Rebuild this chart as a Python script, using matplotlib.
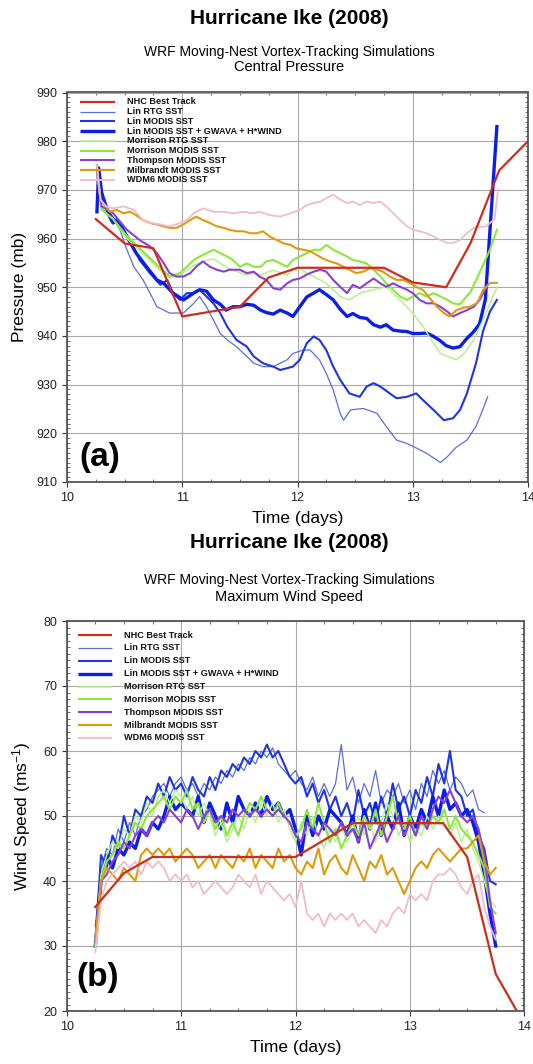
import numpy as np
import matplotlib
matplotlib.use("Agg")
import matplotlib.pyplot as plt
from matplotlib.ticker import MultipleLocator

plt.rcParams['font.family'] = ['Liberation Sans', 'DejaVu Sans']
plt.rcParams['mathtext.fontset'] = 'custom'
plt.rcParams['mathtext.rm'] = 'Liberation Sans'
plt.rcParams['mathtext.it'] = 'Liberation Sans'

# ---------------- series names / styles ----------------
labels = ["NHC Best Track", "Lin RTG SST", "Lin MODIS SST",
          "Lin MODIS SST + GWAVA + H*WIND", "Morrison RTG SST",
          "Morrison MODIS SST", "Thompson MODIS SST",
          "Milbrandt MODIS SST", "WDM6 MODIS SST"]
colors = ["#d02c1c", "#5a6fd8", "#1f35e0", "#0a1ee8", "#b8f08c",
          "#8ce83a", "#8a40d8", "#e09a10", "#f0bcc8"]
widths = [1.6, 0.9, 1.5, 2.4, 1.1, 1.5, 1.5, 1.5, 1.3]

# ---------------- panel (a): central pressure ----------------
nhc_t_a = [10.25, 10.5, 10.75, 11.0, 11.25, 11.5, 11.75, 12.0, 12.25, 12.5,
           12.75, 13.0, 13.29, 13.5, 13.75, 14.0]
nhc_p = [964, 959, 958, 944, 945, 946, 952, 954, 954, 954, 954, 951, 950,
         959, 974, 980]

linrtg_t = [10.26, 10.30, 10.37, 10.46, 10.52, 10.58, 10.66, 10.72, 10.78, 10.84,
            10.89, 10.95, 11.01, 11.10, 11.15, 11.21, 11.27, 11.33, 11.39, 11.47,
            11.56, 11.62, 11.70, 11.79, 11.91, 11.96, 12.05, 12.11, 12.19, 12.25,
            12.31, 12.37, 12.40, 12.46, 12.57, 12.69, 12.77, 12.86, 12.95, 13.03,
            13.12, 13.24, 13.30, 13.38, 13.47, 13.55, 13.61, 13.65]
linrtg_p = [974, 966, 965.2, 961.8, 957.7, 954.2, 951.5, 948.8, 946.0, 945.3,
            944.7, 944.7, 944.7, 946.7, 948.1, 946.0, 943.3, 940.5, 939.2, 937.8,
            935.8, 934.4, 933.7, 933.7, 935.1, 936.4, 937.1, 937.1, 935.1, 932.3,
            928.9, 924.1, 922.7, 924.8, 925.1, 924.1, 921.4, 918.6, 917.9, 917.0,
            915.9, 914.0, 915.2, 917.2, 918.6, 921.5, 925.0, 927.5]

linmod_t = [10.26, 10.30, 10.37, 10.46, 10.55, 10.63, 10.72, 10.81, 10.87, 10.92,
            10.98, 11.04, 11.10, 11.15, 11.21, 11.27, 11.33, 11.39, 11.47, 11.56,
            11.62, 11.70, 11.79, 11.85, 11.96, 12.02, 12.08, 12.14, 12.19, 12.25,
            12.31, 12.37, 12.45, 12.54, 12.60, 12.66, 12.72, 12.80, 12.86, 12.95,
            13.03, 13.09, 13.18, 13.27, 13.35, 13.41, 13.47, 13.55, 13.61, 13.67,
            13.73]
linmod_p = [975, 968.8, 965.2, 962.5, 959.7, 955.6, 952.9, 950.5, 951.5, 948.8,
            947.4, 948.8, 948.8, 949.5, 948.1, 946.7, 944.7, 941.9, 939.2, 937.8,
            935.8, 934.4, 933.7, 933.0, 933.7, 935.1, 938.5, 939.9, 939.2, 937.1,
            933.7, 931.0, 928.2, 927.5, 929.6, 930.3, 929.6, 928.2, 927.2, 927.5,
            928.2, 926.8, 924.8, 922.7, 923.1, 924.8, 928.2, 934.5, 941.0, 945.0,
            947.4]

gwava_t = [10.26, 10.275, 10.30, 10.34, 10.37, 10.40, 10.43, 10.46, 10.52, 10.60,
           10.69, 10.78, 10.84, 10.92, 11.01, 11.10, 11.15, 11.21, 11.27, 11.33,
           11.38, 11.44, 11.50, 11.56, 11.62, 11.68, 11.73, 11.79, 11.85, 11.91,
           11.96, 12.02, 12.08, 12.14, 12.19, 12.25, 12.31, 12.37, 12.43, 12.48,
           12.54, 12.60, 12.66, 12.72, 12.77, 12.83, 12.89, 12.95, 13.00, 13.06,
           13.12, 13.18, 13.24, 13.29, 13.35, 13.41, 13.47, 13.53, 13.58, 13.63,
           13.73]
gwava_p = [965.5, 974.5, 969.5, 966.5, 964.5, 963.2, 963.8, 963.0, 960.4, 957.0,
           954.2, 951.5, 950.8, 948.8, 947.4, 948.8, 949.5, 949.2, 947.4, 946.5,
           945.3, 946.0, 946.0, 946.5, 946.3, 945.3, 944.8, 944.5, 945.3, 944.7,
           944.0, 946.0, 948.0, 948.8, 949.5, 948.5, 947.4, 945.5, 944.0, 944.6,
           943.8, 943.6, 942.3, 941.8, 942.3, 941.2, 941.0, 940.9, 940.5, 940.5,
           940.6, 939.9, 939.0, 938.0, 937.5, 937.8, 939.5, 940.9, 942.5, 947.5,
           983.0]

morrtg_t = [10.26, 10.30, 10.40, 10.52, 10.63, 10.72, 10.78, 10.89, 10.98, 11.04,
            11.10, 11.15, 11.21, 11.27, 11.33, 11.39, 11.44, 11.50, 11.56, 11.62,
            11.68, 11.73, 11.79, 11.85, 11.91, 11.96, 12.02, 12.08, 12.14, 12.25,
            12.37, 12.45, 12.54, 12.66, 12.77, 12.89, 13.00, 13.09, 13.18, 13.24,
            13.30, 13.38, 13.45, 13.53, 13.61, 13.73]
morrtg_p = [974, 966, 964, 960, 957.5, 955.5, 954, 952, 952.5, 953.5,
            954.5, 955.0, 955.5, 955.8, 955.0, 954.0, 953.5, 953.0, 952.5, 953.0,
            952.5, 953.0, 953.5, 953.0, 952.5, 953.6, 953.8, 952.9, 952.2, 950.8,
            948.1, 947.4, 948.8, 949.5, 950.1, 947.4, 944.7, 941.9, 938.5, 936.4,
            935.8, 935.1, 936.5, 939.2, 943.3, 950.0]

mormod_t = [10.26, 10.30, 10.40, 10.52, 10.63, 10.72, 10.78, 10.89, 10.98, 11.04,
            11.10, 11.15, 11.21, 11.27, 11.33, 11.39, 11.44, 11.50, 11.56, 11.62,
            11.68, 11.73, 11.79, 11.85, 11.91, 11.96, 12.02, 12.08, 12.14, 12.20,
            12.25, 12.31, 12.37, 12.43, 12.48, 12.54, 12.60, 12.66, 12.72, 12.77,
            12.83, 12.89, 12.95, 13.00, 13.06, 13.12, 13.18, 13.24, 13.30, 13.35,
            13.41, 13.50, 13.58, 13.67, 13.73]
mormod_p = [974, 966, 964, 960.5, 958, 956, 954.6, 952.2, 952.9, 954.2,
            955.6, 956.3, 957.0, 957.7, 957.0, 956.3, 955.6, 954.2, 954.9, 954.2,
            954.2, 955.3, 955.6, 954.9, 954.2, 955.6, 956.3, 957.0, 957.7, 957.7,
            958.7, 957.7, 957.0, 956.3, 955.6, 955.3, 954.9, 953.6, 952.2, 950.8,
            949.5, 948.1, 947.4, 948.1, 948.8, 948.1, 948.8, 948.1, 947.4, 946.7,
            946.5, 949.0, 953.0, 957.7, 961.8]

thom_t = [10.26, 10.30, 10.40, 10.52, 10.63, 10.72, 10.78, 10.84, 10.89, 10.95,
          11.01, 11.07, 11.12, 11.18, 11.24, 11.30, 11.36, 11.41, 11.50, 11.56,
          11.62, 11.67, 11.73, 11.79, 11.85, 11.91, 11.96, 12.02, 12.08, 12.14,
          12.20, 12.25, 12.31, 12.37, 12.43, 12.48, 12.54, 12.60, 12.66, 12.72,
          12.77, 12.83, 12.89, 12.95, 13.00, 13.06, 13.12, 13.18, 13.24, 13.30,
          13.35, 13.41, 13.47, 13.53, 13.58, 13.64]
thom_p = [974, 966.6, 965.2, 961.8, 959.7, 958.4, 957.0, 954.9, 952.9, 952.2,
          952.2, 952.9, 954.2, 955.3, 954.2, 953.6, 953.2, 953.6, 953.6, 952.9,
          953.2, 952.2, 951.5, 949.8, 949.5, 950.8, 951.5, 951.8, 952.6, 953.2,
          953.6, 953.2, 951.5, 950.1, 948.8, 950.5, 949.8, 950.8, 951.8, 950.8,
          950.1, 950.8, 950.1, 949.5, 948.8, 947.4, 946.7, 946.7, 946.0, 945.0,
          944.0, 944.7, 945.3, 946.0, 947.4, 950.0]

milb_t = [10.26, 10.29, 10.37, 10.43, 10.49, 10.55, 10.60, 10.66, 10.72, 10.78,
          10.84, 10.89, 10.95, 11.01, 11.07, 11.12, 11.18, 11.24, 11.30, 11.36,
          11.41, 11.47, 11.53, 11.59, 11.65, 11.70, 11.76, 11.82, 11.88, 11.94,
          11.99, 12.05, 12.11, 12.17, 12.22, 12.28, 12.34, 12.40, 12.45, 12.51,
          12.57, 12.63, 12.69, 12.74, 12.80, 12.86, 12.92, 12.98, 13.03, 13.09,
          13.15, 13.21, 13.27, 13.32, 13.38, 13.44, 13.50, 13.56, 13.61, 13.67,
          13.73]
milb_p = [975, 968, 965.5, 965.9, 965.2, 965.5, 964.8, 963.8, 963.2, 962.9,
          962.5, 962.2, 962.2, 962.9, 963.8, 964.5, 963.8, 963.2, 962.5, 962.2,
          961.8, 961.5, 961.5, 961.1, 961.1, 961.5, 960.4, 959.7, 959.0, 958.7,
          958.0, 957.7, 957.4, 956.6, 955.9, 955.3, 954.9, 954.2, 953.6, 952.9,
          953.2, 953.9, 953.6, 953.2, 952.2, 951.5, 951.5, 950.8, 950.1, 949.4,
          947.7, 946.0, 944.7, 944.0, 945.3, 945.8, 946.0, 946.8, 949.4, 950.9,
          950.9]

wdm6_t = [10.26, 10.29, 10.34, 10.40, 10.49, 10.58, 10.66, 10.72, 10.81, 10.89,
          10.98, 11.04, 11.10, 11.18, 11.27, 11.36, 11.44, 11.53, 11.62, 11.67,
          11.76, 11.85, 11.94, 12.02, 12.08, 12.14, 12.20, 12.25, 12.31, 12.37,
          12.43, 12.48, 12.54, 12.60, 12.66, 12.72, 12.77, 12.83, 12.89, 12.95,
          13.00, 13.06, 13.12, 13.18, 13.24, 13.30, 13.35, 13.41, 13.47, 13.53,
          13.58, 13.64, 13.68, 13.71, 13.74]
wdm6_p = [975, 968, 966.6, 966.2, 966.6, 965.9, 963.8, 963.2, 962.9, 962.5,
          963.2, 963.8, 965.2, 966.2, 965.5, 965.5, 965.2, 965.5, 965.2, 965.5,
          964.8, 964.5, 965.2, 965.9, 966.9, 967.3, 967.6, 968.3, 969.0, 968.0,
          967.3, 967.6, 966.9, 967.6, 967.3, 967.6, 966.6, 965.2, 963.8, 962.5,
          961.8, 961.5, 961.1, 960.4, 959.7, 959.1, 959.1, 959.7, 961.1, 962.2,
          962.4, 962.5, 963.4, 964.0, 970.0]

# ---------------- panel (b): maximum wind speed ----------------
nhc_t_b = [10.25, 10.5, 10.75, 11.0, 11.25, 11.5, 11.75, 12.0, 12.25, 12.5,
           12.75, 13.0, 13.29, 13.5, 13.75, 14.0]
nhc_v = [36.0, 41.2, 43.7, 43.7, 43.7, 43.7, 43.7, 43.7, 46.3, 48.9,
         48.9, 48.9, 48.9, 43.7, 25.7, 18.0]

wind_t = np.round(10.25 + 0.05 * np.arange(71), 2)   # model output times (days)

linrtg_v = [33, 42, 45, 44, 48, 46, 49, 47, 50, 51,
            53, 54, 55, 53, 55, 56, 54, 55, 53, 55,
            54, 56, 55, 57, 56, 58, 57, 59, 58, 60,
            59, 60.5, 58, 57, 56, 57, 55, 54, 56, 53,
            55, 53, 55, 61, 54, 56, 52, 55, 53, 57,
            52, 54, 53, 55, 52, 54, 51, 55, 53, 57,
            55, 57, 54, 56, 55, 53, 54, 51, 50.5]
linmod_v = [30, 44, 42, 47, 45, 50, 47, 51, 50, 53,
            52, 55, 53, 56, 54, 55, 53, 56, 54, 53,
            56, 54, 57, 56, 58, 57, 59, 58, 60, 59,
            61, 59, 60, 58, 56, 55, 56, 53, 55, 52,
            54, 51, 53, 50, 52, 49, 54, 50, 52, 49,
            53, 50, 55, 51, 53, 50, 54, 52, 56, 53,
            58, 55, 60, 54, 53, 50, 51, 47, 45, 40, 39.5]
gwava_v = [30, 40, 44, 42, 45, 44, 46, 45, 48, 47,
           49, 48, 50, 53, 51, 52, 51, 50, 53, 49,
           52, 50, 48, 52, 49, 53, 51, 50, 52, 50,
           53, 51, 52, 50, 51, 48, 44, 50, 47, 50,
           48, 51, 50, 49, 47, 50, 46, 51, 48, 52,
           47, 50, 48, 52, 47, 50, 48, 51, 49, 53,
           50, 54, 51, 52, 50, 51, 49, 46, 41, 35, 30]
morrtg_v = [30, 41, 44, 46, 45, 48, 47, 50, 49, 52,
            50, 53, 54, 52, 54, 53, 51, 53, 50, 52,
            50, 47, 49, 46, 48, 50, 48, 51, 49, 52,
            50, 52, 49, 51, 48, 46, 49, 47, 50, 47,
            45, 48, 46, 49, 46, 48, 50, 47, 49, 46,
            49, 52, 50, 47, 49, 46, 48, 47, 50, 48,
            50, 49, 47, 49, 46, 48, 45, 43, 40, 37, 36]
mormod_v = [30, 40, 43, 44, 46, 45, 47, 49, 48, 50,
            51, 52, 53, 51, 53, 52, 54, 51, 52, 49,
            51, 48, 50, 47, 49, 47, 50, 52, 51, 53,
            51, 50, 52, 50, 49, 47, 48, 51, 48, 52,
            49, 46, 48, 45, 47, 49, 47, 50, 48, 51,
            47, 50, 53, 49, 48, 50, 47, 49, 48, 50,
            49, 51, 48, 50, 48, 47, 46, 44, 42, 36, 35]
thom_v = [31, 40, 41, 43, 44, 46, 45, 47, 48, 47,
          49, 50, 49, 51, 50, 49, 51, 50, 48, 50,
          51, 49, 50, 49, 51, 50, 51, 50, 51, 50,
          51, 50, 51, 50, 49, 47, 46, 49, 48, 47,
          49, 48, 47, 49, 47, 48, 46, 49, 45, 47,
          49, 46, 48, 50, 47, 49, 47, 50, 48, 51,
          53, 52, 54, 52, 50, 49, 50, 48, 44, 37, 32]
milb_v = [31, 40, 42, 41, 40, 42, 41, 40, 44, 45,
          44, 45, 44, 45, 43, 44, 45, 44, 42, 43,
          44, 42, 44, 43, 42, 44, 43, 45, 42, 44,
          43, 42, 45, 43, 44, 42, 41, 43, 42, 45,
          41, 43, 44, 42, 41, 44, 42, 40, 43, 42,
          44, 41, 42, 40, 38, 40, 42, 43, 42, 44,
          45, 44, 43, 44, 45, 45, 46, 47, 43, 41, 42]
wdm6_v = [29, 37, 40, 41, 42, 43, 42, 43, 41, 43,
          42, 43, 42, 40, 41, 40, 41, 39, 40, 38,
          39, 40, 39, 38, 39, 41, 40, 39, 41, 38,
          40, 39, 38, 37, 38, 36, 40, 35, 34, 35,
          33, 35, 34, 35, 34, 35, 33, 34, 33, 32,
          34, 33, 35, 36, 35, 38, 37, 38, 37, 40,
          41, 41, 42, 41, 39, 38, 40, 41, 36, 33, 31]

pressure_series = [(nhc_t_a, nhc_p), (linrtg_t, linrtg_p), (linmod_t, linmod_p),
                   (gwava_t, gwava_p), (morrtg_t, morrtg_p), (mormod_t, mormod_p),
                   (thom_t, thom_p), (milb_t, milb_p), (wdm6_t, wdm6_p)]
wind_series = [(nhc_t_b, nhc_v)] + [(wind_t[:len(v)], v) for v in
               [linrtg_v, linmod_v, gwava_v, morrtg_v, mormod_v, thom_v, milb_v, wdm6_v]]

fig = plt.figure(figsize=(5.33, 10.64), dpi=100)
W, H = 533.0, 1064.0

def make_axes(l, r, t, b):
    return fig.add_axes([l / W, 1 - b / H, (r - l) / W, (b - t) / H])

ax_a = make_axes(67, 528, 92.5, 482)
ax_b = make_axes(66.7, 524.3, 621, 1011)

def style(ax, ylo, yhi, ylabel, tag, leg_top, leg_step, leg_x0, leg_x1, leg_tx, tag_xy):
    ax.set_xlim(10, 14)
    ax.set_ylim(ylo, yhi)
    ax.xaxis.set_major_locator(MultipleLocator(1))
    ax.xaxis.set_minor_locator(MultipleLocator(0.25))
    ax.yaxis.set_major_locator(MultipleLocator(10))
    ax.yaxis.set_minor_locator(MultipleLocator(1))
    ax.grid(True, which='major', color='#a8a8a8', lw=0.8)
    ax.set_axisbelow(True)
    ax.tick_params(which='major', direction='out', length=3.5, width=0.8,
                   labelsize=9, colors='#333333', labelcolor='#222222',
                   top=False, right=False)
    ax.tick_params(which='minor', direction='in', length=2.5, width=0.6,
                   colors='#555555', top=True, right=True)
    for s in ax.spines.values():
        s.set_linewidth(1.3)
        s.set_color('#555555')
    ax.set_xlabel("Time (days)", fontsize=12.5, labelpad=5)
    ax.set_ylabel(ylabel, fontsize=12.5, labelpad=7)
    ax.text(tag_xy[0], tag_xy[1], tag, transform=ax.transAxes, fontsize=24,
            fontweight='bold', ha='center', va='center')
    for i, (lab, c, w) in enumerate(zip(labels, colors, widths)):
        yy = leg_top - i * leg_step
        ax.plot([leg_x0, leg_x1], [yy, yy], color=c, lw=w, transform=ax.transAxes,
                solid_capstyle='butt')
        ax.text(leg_tx, yy, lab, transform=ax.transAxes, fontsize=6.6,
                fontweight='bold', va='center', ha='left', color='#111111')

def draw(ax, series):
    order = list(range(1, 9)) + [0]
    for i in order:
        t, v = series[i]
        ax.plot(t, v, color=colors[i], lw=widths[i], solid_joinstyle='round')

draw(ax_a, pressure_series)
style(ax_a, 910, 990, "Pressure (mb)", "(a)", 0.976, 0.025, 0.028, 0.104, 0.1295,
      (0.072, 0.062))
draw(ax_b, wind_series)
style(ax_b, 20, 80, r"Wind Speed (ms$^{-1}$)", "(b)", 0.964, 0.033, 0.0247, 0.099,
      0.125, (0.068, 0.085))

cx = 289 / W
fig.text(cx, 1 - 18 / H, "Hurricane Ike (2008)", fontsize=15, fontweight='bold',
         ha='center', va='center')
fig.text(cx, 1 - 52 / H, "WRF Moving-Nest Vortex-Tracking Simulations",
         fontsize=10, ha='center', va='center')
fig.text(cx, 1 - 67 / H, "Central Pressure", fontsize=10.5, ha='center', va='center')
fig.text(cx, 1 - 542 / H, "Hurricane Ike (2008)", fontsize=15, fontweight='bold',
         ha='center', va='center')
fig.text(cx, 1 - 580 / H, "WRF Moving-Nest Vortex-Tracking Simulations",
         fontsize=10, ha='center', va='center')
fig.text(cx, 1 - 597 / H, "Maximum Wind Speed", fontsize=10.5, ha='center',
         va='center')

fig.savefig("out.png", dpi=100)
